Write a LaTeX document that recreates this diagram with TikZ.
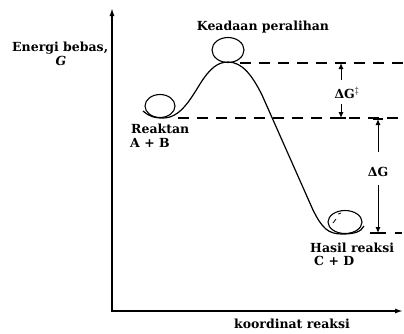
\documentclass[tikz,border=0pt]{standalone}
\usepackage{fontspec}
\setmainfont{DejaVu Serif}
\usetikzlibrary{arrows.meta,shapes.geometric}
\begin{document}
\begin{tikzpicture}[x=1pt,y=-1pt,
  lbl/.style={font=\fontsize{12.5}{15}\selectfont\bfseries, inner sep=0pt},
  ax/.style={line width=1.5pt},
  crv/.style={line width=1.2pt},
  dsh/.style={line width=1.1pt, dash pattern=on 11pt off 8pt},
  arr/.style={line width=1pt, -{Latex[length=6pt,width=5pt]}},
  ball/.style={draw, ellipse, line width=1.1pt, inner sep=0pt}]
\useasboundingbox (0,0) rectangle (404,333);
% axes
\coordinate (Ytop) at (112,8);
\coordinate (O) at (112,311);
\coordinate (Xend) at (403,311);
\draw[ax,{Latex[length=8pt,width=5pt]}-{Latex[length=8pt,width=5pt]}] (Ytop) -- (O) -- (Xend);
% labels
\node[lbl, anchor=base west] (eb) at (12,51) {Energi bebas,};
\node[lbl, anchor=base] (g) at (61,65) {\itshape G};
\node[lbl, anchor=base] (kp) at (263,30) {Keadaan peralihan};
\node[lbl, anchor=base west] (rk) at (131,133) {Reaktan};
\node[lbl, anchor=base west] (ab) at (130,147) {A + B};
\node[lbl, anchor=base west] (hr) at (310,252) {Hasil reaksi};
\node[lbl, anchor=base west] (cd) at (314,265) {C + D};
\node[lbl, anchor=base] (kr) at (292,328) {koordinat reaksi};
\node[lbl] (dgd) at (347,93) {ΔG$^{\ddagger}$};
\node[lbl] (dg) at (378,172) {ΔG};
% balls
\node[ball, minimum width=30pt, minimum height=23pt] (b1) at (160,106) {};
\node[ball, minimum width=32pt, minimum height=25pt] (b2) at (228,50) {};
\node[ball, minimum width=34pt, minimum height=23pt] (b3) at (345,222) {};
\draw[line width=0.8pt] (333,223) -- (336,219);
\draw[line width=0.8pt] (338,214) -- (341,213);
% energy curve
\draw[crv] (143,111) .. controls (150,117) and (155,118) .. (163,118)
  .. controls (180,118) and (190,100) .. (200,84)
  .. controls (210,68) and (218,62) .. (228,62)
  .. controls (242,62) and (252,75) .. (262,95)
  -- (313,210)
  .. controls (322,228) and (328,234) .. (342,234)
  .. controls (354,234) and (361,232) .. (364,226);
% dashed levels
\coordinate (t1) at (240,63);  \coordinate (t2) at (404,63);
\coordinate (m1) at (178,118); \coordinate (m2) at (404,118);
\draw[dsh] (t1) -- (t2);
\draw[dsh] (m1) -- (m2);
\draw[line width=1.1pt] (370,233) -- (386,233);
\draw[line width=1.1pt] (395,233) -- (402,233);
\draw[line width=1.1pt] (336,118) -- (346,118);
\draw[line width=1.1pt] (336,63) -- (346,63);
\draw[line width=1.1pt] (373,119) -- (383,119);
% arrows
\coordinate (a1) at (341,80);  \coordinate (a1e) at (341,63);
\coordinate (a2) at (341,104); \coordinate (a2e) at (341,118);
\coordinate (a3) at (378,152); \coordinate (a3e) at (378,119);
\coordinate (a4) at (378,185); \coordinate (a4e) at (378,233);
\draw[arr] (a1) -- (a1e);
\draw[arr] (a2) -- (a2e);
\draw[arr] (a3) -- (a3e);
\draw[arr] (a4) -- (a4e);
\end{tikzpicture}
\end{document}
